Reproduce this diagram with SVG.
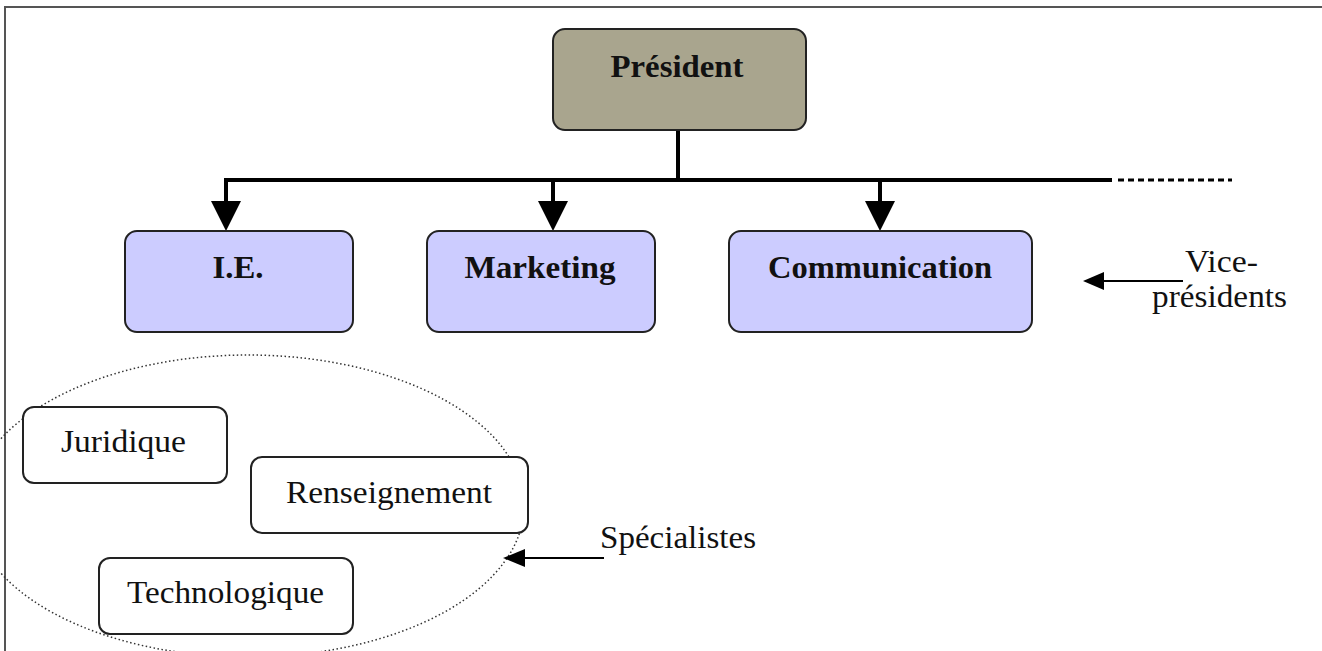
<svg xmlns="http://www.w3.org/2000/svg" width="1322" height="651" viewBox="0 0 1322 651">
<style>
.bg{fill:#ffffff}
.frame{stroke:#555555;stroke-width:2;fill:none}
.pres{fill:#a9a58e;stroke:#222222;stroke-width:2}
.vp{fill:#ccccff;stroke:#222222;stroke-width:2}
.spec{fill:#ffffff;stroke:#222222;stroke-width:2}
.bold{font-family:"Liberation Serif","Times New Roman",serif;font-weight:bold;font-size:32px;fill:#111111}
.reg{font-family:"Liberation Serif","Times New Roman",serif;font-size:32px;fill:#111111}
.thick{stroke:#000000;stroke-width:4;fill:none}
.thin{stroke:#000000;stroke-width:2;fill:none}
.head{fill:#000000}
.ell{fill:none;stroke:#333333;stroke-width:1.5;stroke-dasharray:1.5 2.5}
</style>
<rect class="bg" x="0" y="0" width="1322" height="651"/>
<g id="frame">
<line class="frame" x1="5" y1="7" x2="1322" y2="7"/>
<line class="frame" x1="5" y1="6" x2="5" y2="651"/>
</g>
<g id="specialists-group">
<ellipse class="ell" cx="248" cy="506" rx="276" ry="151"/>
</g>
<g id="connectors">
<line class="thick" x1="678" y1="130" x2="678" y2="180"/>
<polyline class="thick" points="226,204 226,180 1112,180"/>
<line x1="1118" y1="180" x2="1232" y2="180" stroke="#000" stroke-width="3" stroke-dasharray="6 4"/>
<line class="thick" x1="553" y1="180" x2="553" y2="204"/>
<line class="thick" x1="880" y1="180" x2="880" y2="204"/>
<polygon class="head" points="211,201 241,201 226,231"/>
<polygon class="head" points="538,201 568,201 553,231"/>
<polygon class="head" points="865,201 895,201 880,231"/>
<line class="thin" x1="1183" y1="281" x2="1100" y2="281"/>
<polygon class="head" points="1083,281 1104,272 1104,290"/>
<line class="thin" x1="604" y1="558" x2="522" y2="558"/>
<polygon class="head" points="503,558 525,549 525,567"/>
</g>
<g id="president">
<rect class="pres" x="553" y="29" width="253" height="101" rx="12"/>
<text class="bold" x="677" y="77" text-anchor="middle" textLength="133" lengthAdjust="spacingAndGlyphs">Président</text>
</g>
<g id="ie">
<rect class="vp" x="125" y="231" width="228" height="101" rx="12"/>
<text class="bold" x="238" y="278" text-anchor="middle" textLength="51" lengthAdjust="spacingAndGlyphs">I.E.</text>
</g>
<g id="marketing">
<rect class="vp" x="427" y="231" width="228" height="101" rx="12"/>
<text class="bold" x="540" y="278" text-anchor="middle" textLength="151" lengthAdjust="spacingAndGlyphs">Marketing</text>
</g>
<g id="communication">
<rect class="vp" x="729" y="231" width="303" height="101" rx="12"/>
<text class="bold" x="880" y="278" text-anchor="middle" textLength="224" lengthAdjust="spacingAndGlyphs">Communication</text>
</g>
<g id="vice-presidents-label">
<text class="reg" x="1185" y="272" textLength="73" lengthAdjust="spacingAndGlyphs">Vice-</text>
<text class="reg" x="1152" y="307" textLength="135" lengthAdjust="spacingAndGlyphs">présidents</text>
</g>
<g id="juridique">
<rect class="spec" x="23" y="407" width="204" height="76" rx="11"/>
<text class="reg" x="61" y="452" textLength="125" lengthAdjust="spacingAndGlyphs">Juridique</text>
</g>
<g id="renseignement">
<rect class="spec" x="251" y="457" width="277" height="76" rx="11"/>
<text class="reg" x="286" y="503" textLength="206" lengthAdjust="spacingAndGlyphs">Renseignement</text>
</g>
<g id="technologique">
<rect class="spec" x="99" y="558" width="254" height="76" rx="11"/>
<text class="reg" x="127" y="603" textLength="197" lengthAdjust="spacingAndGlyphs">Technologique</text>
</g>
<g id="specialistes-label">
<text class="reg" x="600" y="548" textLength="156" lengthAdjust="spacingAndGlyphs">Spécialistes</text>
</g>
</svg>
